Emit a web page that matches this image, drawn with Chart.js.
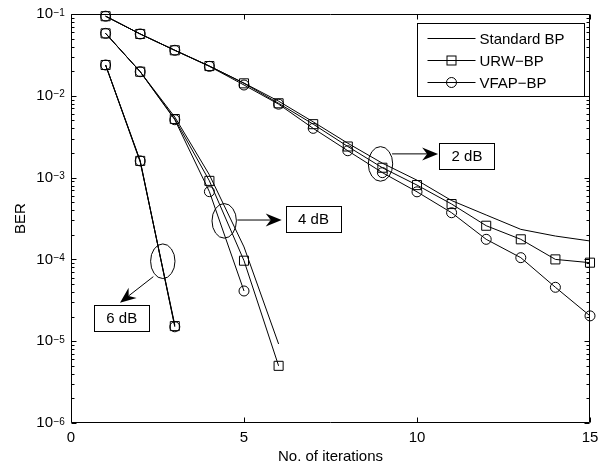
<!DOCTYPE html>
<html><head><meta charset="utf-8">
<script src="https://cdn.jsdelivr.net/npm/chart.js@4.4.0/dist/chart.umd.min.js"></script>
<style>html,body{margin:0;padding:0;background:#fff;}canvas{display:block;}</style>
</head><body>
<canvas id="c" width="608" height="466"></canvas>
<script>
// ---------- data ----------
const iterations = [1,2,3,4,5,6,7,8,9,10,11,12,13,14,15];
// SNR = 2 dB
const std2  = [0.094,0.057,0.036,0.0231,0.0143,0.0086,0.0048,0.00263,0.0015,0.00093,0.000524,0.000349,0.000233,0.000193,0.000168];
const urw2  = [0.094,0.057,0.036,0.0231,0.0142,0.0081,0.0045,0.0024,0.00132,0.00081,0.000475,0.000258,0.000176,0.0001,0.0000912];
const vfap2 = [0.094,0.057,0.036,0.0229,0.01355,0.0079,0.0040,0.00213,0.00115,0.00067,0.000372,0.000176,0.000105,0.0000456,0.0000204];
// SNR = 4 dB
const std4  = [0.058,0.0197,0.0055,0.00108,0.000142,0.00000925];
const urw4  = [0.058,0.0197,0.0052,0.000912,0.0000964,0.000005];
const vfap4 = [0.058,0.0197,0.0051,0.000673,0.0000411];
// SNR = 6 dB
const std6  = [0.0238,0.00155,0.0000158];
const urw6  = [0.0238,0.0016,0.0000153];
const vfap6 = [0.0238,0.0016,0.000015];

const xTicks = [0,5,10,15];
const yTicks = [1e-6,1e-5,1e-4,1e-3,1e-2,1e-1];
const yTickBase = '10';
const yTickExponents = ['\u22126','\u22125','\u22124','\u22123','\u22122','\u22121'];
const legendLabels = ['Standard BP','URW\u2212BP','VFAP\u2212BP'];
const snrLabels = ['2 dB','4 dB','6 dB'];
// annotation anchors (data coordinates): ellipse centre, arrow start, arrow end, label box centre
const annEllipse = [[8.945,1.47e-3],[4.428,2.96e-4],[2.653,9.5e-5]];
const annArrowFrom = [[9.28,1.95e-3],[4.806,3.03e-4],[2.379,6.15e-5]];
const annArrowTo = [[10.61,1.95e-3],[6.09,3.03e-4],[1.416,2.96e-5]];
const annBox = [[11.445,1.836e-3],[7.009,3.12e-4],[1.468,1.905e-5]];

// ---------- styling ----------
const FONT = '"Liberation Sans", Arial, Helvetica, sans-serif';
const FS = 15;
const pts = arr => arr.map((v,i)=>({x:iterations[i], y:v}));
function ds(arr, style){
  const base = {data:pts(arr), borderColor:'#000', borderWidth:1, backgroundColor:'rgba(0,0,0,0)',
    pointBorderColor:'#000', pointBackgroundColor:'rgba(0,0,0,0)', pointBorderWidth:1,
    tension:0, fill:false, clip:false};
  if(style==='none'){ base.pointRadius=0; base.pointHoverRadius=0; }
  if(style==='rect'){ base.pointStyle='rect'; base.pointRadius=6.4; }
  if(style==='circle'){ base.pointStyle='circle'; base.pointRadius=5; }
  return base;
}

const decor = {
  id:'decor',
  afterDraw(chart){
    const {ctx, chartArea:a, scales:{x,y}} = chart;
    ctx.save();
    ctx.strokeStyle='#000'; ctx.fillStyle='#000'; ctx.lineWidth=1;
    const L=a.left+0.5, R=a.right-0.5, T=a.top+0.5, B=a.bottom-0.5;
    // inward ticks
    ctx.beginPath();
    for(let n=-6;n<=-2;n++){
      for(let k=2;k<=9;k++){
        const py=Math.round(y.getPixelForValue(k*Math.pow(10,n)))+0.5;
        ctx.moveTo(L,py); ctx.lineTo(L+3,py);
        ctx.moveTo(R,py); ctx.lineTo(R-3,py);
      }
    }
    yTicks.forEach(v=>{
      const py=Math.round(y.getPixelForValue(v))+0.5;
      ctx.moveTo(L,py); ctx.lineTo(L+5,py);
      ctx.moveTo(R,py); ctx.lineTo(R-5,py);
    });
    xTicks.forEach(v=>{
      const px=Math.round(x.getPixelForValue(v))+0.5;
      ctx.moveTo(px,B); ctx.lineTo(px,B-5);
      ctx.moveTo(px,T); ctx.lineTo(px,T+5);
    });
    ctx.stroke();
    // frame
    ctx.beginPath(); ctx.rect(L,T,R-L,B-T); ctx.stroke();

    // y tick exponents (superscripts after the "10" tick labels)
    ctx.font = '10px '+FONT;
    ctx.textAlign='left'; ctx.textBaseline='alphabetic';
    yTicks.forEach((v,i)=>{
      const py=y.getPixelForValue(v);
      ctx.fillText(yTickExponents[i], a.left-17.5, py+1.5);
    });

    // annotations
    const P = p => [x.getPixelForValue(p[0]), y.getPixelForValue(p[1])];
    ctx.font = FS+'px '+FONT;
    ctx.textAlign='center'; ctx.textBaseline='middle';
    for(let i=0;i<snrLabels.length;i++){
      const [ex,ey]=P(annEllipse[i]);
      ctx.beginPath(); ctx.ellipse(ex,ey,12.2,17.3,0,0,Math.PI*2); ctx.stroke();
      const [x1,y1]=P(annArrowFrom[i]); const [x2,y2]=P(annArrowTo[i]);
      const ang=Math.atan2(y2-y1,x2-x1);
      const hl=16, hw=6.5, notch=11;
      const bx=x2-Math.cos(ang)*notch, by=y2-Math.sin(ang)*notch;
      ctx.beginPath(); ctx.moveTo(x1,y1); ctx.lineTo(bx,by); ctx.stroke();
      const c=Math.cos(ang), s=Math.sin(ang);
      ctx.beginPath();
      ctx.moveTo(x2,y2);
      ctx.lineTo(x2-c*hl - s*hw, y2-s*hl + c*hw);
      ctx.lineTo(bx,by);
      ctx.lineTo(x2-c*hl + s*hw, y2-s*hl - c*hw);
      ctx.closePath(); ctx.fill();
      const [cx,cy]=P(annBox[i]);
      const w=55, h=26;
      ctx.fillStyle='#fff';
      ctx.fillRect(Math.round(cx-w/2)+0.5, Math.round(cy-h/2)+0.5, w, h);
      ctx.fillStyle='#000';
      ctx.strokeRect(Math.round(cx-w/2)+0.5, Math.round(cy-h/2)+0.5, w, h);
      ctx.fillText(snrLabels[i], cx, cy+1);
    }

    // legend
    const lx=Math.round(a.right-173)+0.5, ly=Math.round(a.top+9)+0.5, lw=167, lh=73;
    ctx.fillStyle='#fff'; ctx.fillRect(lx,ly,lw,lh);
    ctx.fillStyle='#000'; ctx.strokeRect(lx,ly,lw,lh);
    ctx.textAlign='left';
    const styles=['none','rect','circle'];
    for(let i=0;i<3;i++){
      const ry=Math.round(ly+14+i*22)+0.5;
      ctx.beginPath(); ctx.moveTo(lx+10,ry); ctx.lineTo(lx+58,ry); ctx.stroke();
      const mx=lx+34;
      if(styles[i]==='rect'){ ctx.strokeRect(mx-4.5,ry-4.5,9,9); }
      if(styles[i]==='circle'){ ctx.beginPath(); ctx.arc(mx,ry,5,0,Math.PI*2); ctx.stroke(); }
      ctx.fillText(legendLabels[i], lx+62, ry+1);
    }
    ctx.restore();
  }
};

new Chart(document.getElementById('c'), {
  type:'line',
  data:{datasets:[
    ds(std2,'none'), ds(urw2,'rect'), ds(vfap2,'circle'),
    ds(std4,'none'), ds(urw4,'rect'), ds(vfap4,'circle'),
    ds(std6,'none'), ds(urw6,'rect'), ds(vfap6,'circle')
  ]},
  options:{
    responsive:false, animation:false,
    layout:{padding:{left:0,right:18,top:14,bottom:0}},
    plugins:{legend:{display:false}, tooltip:{enabled:false}},
    scales:{
      x:{type:'linear', min:0, max:15,
        afterBuildTicks: s => { s.ticks = xTicks.map(v=>({value:v})); },
        afterFit: s => { s.height = 43; },
        grid:{display:false, drawTicks:false}, border:{display:false},
        ticks:{color:'#000', font:{family:FONT, size:FS}, padding:6, maxRotation:0, autoSkip:false},
        title:{display:true, text:'No. of iterations', color:'#000', font:{family:FONT, size:FS}, padding:{top:0,bottom:0}}
      },
      y:{type:'logarithmic', min:1e-6, max:1e-1,
        afterBuildTicks: s => { s.ticks = yTicks.map(v=>({value:v})); },
        afterFit: s => { s.width = 71; s.paddingTop = 0; s.paddingBottom = 0; },
        grid:{display:false, drawTicks:false}, border:{display:false},
        ticks:{color:'#000', font:{family:FONT, size:FS}, padding:18, autoSkip:false,
          callback:()=>yTickBase},
        title:{display:true, text:'BER', color:'#000', font:{family:FONT, size:FS}, padding:{top:12,bottom:0}}
      }
    }
  },
  plugins:[decor]
});
</script>
</body></html>
